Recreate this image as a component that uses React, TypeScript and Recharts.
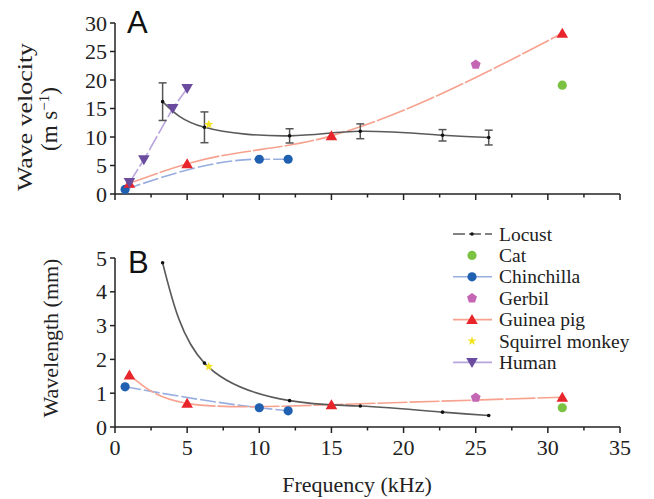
import { ComposedChart, Line, Scatter, XAxis, YAxis, ErrorBar } from "recharts";

// ---- data ----
const freqTicks = [0, 2.5, 5, 7.5, 10, 12.5, 15, 17.5, 20, 22.5, 25, 27.5, 30, 32.5, 35];
const velocityTicks = [0, 2.5, 5, 7.5, 10, 12.5, 15, 17.5, 20, 22.5, 25, 27.5, 30];
const wavelengthTicks = [0, 0.5, 1, 1.5, 2, 2.5, 3, 3.5, 4, 4.5, 5];

const locustFreq = [3.3, 6.2, 12.1, 17.0, 22.7, 25.9];
const locustVelocity = [16.2, 11.7, 10.2, 11.0, 10.3, 9.9];
const locustVelocityErr = [3.3, 2.7, 1.25, 1.3, 1.0, 1.3];
const locustWavelength = [4.86, 1.89, 0.78, 0.62, 0.44, 0.34];

const chinchillaFreq = [0.7, 10, 12];
const chinchillaVelocity = [0.8, 6.1, 6.1];
const chinchillaWavelength = [1.19, 0.57, 0.48];

const guineaPigFreq = [1, 5, 15, 31];
const guineaPigVelocity = [1.9, 5.3, 10.2, 28.2];
const guineaPigWavelength = [1.54, 0.7, 0.66, 0.88];

const gerbilFreq = [25];
const gerbilVelocity = [22.7];
const gerbilWavelength = [0.87];

const catFreq = [31];
const catVelocity = [19.1];
const catWavelength = [0.57];

const squirrelFreq = [6.5];
const squirrelVelocity = [12.2];
const squirrelWavelength = [1.79];

const humanFreq = [1, 2, 4, 5];
const humanVelocity = [2.0, 6.0, 15.0, 18.5];

const FONT = "Liberation Serif";
const SANS = "Liberation Sans";
const AXIS = "#222";

const COLORS = {
  locustLine: "#5a5a5a",
  locust: "#111",
  cat: "#7cc242",
  chinchilla: "#2060b0",
  chinchillaLine: "#98aee0",
  gerbil: "#c466b4",
  guineaPig: "#e8252b",
  guineaPigLine: "#f7a28e",
  squirrel: "#f4e423",
  human: "#6a4b9e",
  humanLine: "#b9a5dd",
};

const pts = (xs: number[], ys: number[], errs?: number[]) =>
  xs.map((x, i) => ({ x, y: ys[i], err: errs ? errs[i] : 0 }));

// ---- markers ----
function Marker({ kind, cx, cy, fill }: { kind: string; cx: number; cy: number; fill: string }) {
  if (cx == null || cy == null) return null;
  if (kind === "dot") return <circle cx={cx} cy={cy} r={1.8} fill={fill} />;
  if (kind === "circle") return <circle cx={cx} cy={cy} r={4.6} fill={fill} />;
  if (kind === "up")
    return <polygon points={`${cx},${cy - 5.5} ${cx + 5.8},${cy + 4.5} ${cx - 5.8},${cy + 4.5}`} fill={fill} />;
  if (kind === "down")
    return <polygon points={`${cx - 5.8},${cy - 4.5} ${cx + 5.8},${cy - 4.5} ${cx},${cy + 5.5}`} fill={fill} />;
  if (kind === "pentagon") {
    const p = [0, 1, 2, 3, 4]
      .map((i) => {
        const a = -Math.PI / 2 + (i * 2 * Math.PI) / 5;
        return `${cx + 5.2 * Math.cos(a)},${cy + 5.2 * Math.sin(a)}`;
      })
      .join(" ");
    return <polygon points={p} fill={fill} />;
  }
  if (kind === "star") {
    const p = Array.from({ length: 10 }, (_, i) => {
      const r = i % 2 === 0 ? 4.8 : 2;
      const a = -Math.PI / 2 + (i * Math.PI) / 5;
      return `${cx + r * Math.cos(a)},${cy + r * Math.sin(a)}`;
    }).join(" ");
    return <polygon points={p} fill={fill} />;
  }
  return null;
}

const shape = (kind: string, fill: string) => (props: any) => (
  <Marker kind={kind} cx={props.cx} cy={props.cy} fill={fill} />
);

// ---- ticks ----
function XTick(props: any) {
  const { x, y, payload, showLabel } = props;
  const v = payload.value;
  const major = Math.abs(v % 5) < 1e-6;
  const axisY = y - 11;
  return (
    <g>
      <line x1={x} x2={x} y1={axisY} y2={axisY + (major ? 6 : 3.5)} stroke={AXIS} strokeWidth={1.5} />
      {showLabel && major && (
        <text x={x} y={axisY + 28} textAnchor="middle" fontFamily={FONT} fontSize={22} fill="#222">
          {v}
        </text>
      )}
    </g>
  );
}

function YTick(props: any) {
  const { x, y, payload, step } = props;
  const v = payload.value;
  const major = Math.abs(v % step) < 1e-6;
  const axisX = x + 8;
  return (
    <g>
      {major ? (
        <line x1={axisX - 5} x2={axisX} y1={y} y2={y} stroke={AXIS} strokeWidth={1.5} />
      ) : (
        <line x1={axisX} x2={axisX + 3.5} y1={y} y2={y} stroke={AXIS} strokeWidth={1.5} />
      )}
      {major && (
        <text x={x} y={y + 7.5} textAnchor="end" fontFamily={FONT} fontSize={22} fill="#222">
          {v}
        </text>
      )}
    </g>
  );
}

function VelocityTitle() {
  return (
    <g>
      <text x={127} y={33} fontFamily={SANS} fontSize={31} fill="#111">
        A
      </text>
      <text
        transform="translate(32,117) rotate(-90)"
        textAnchor="middle"
        fontFamily={FONT}
        fontSize={22}
        fill="#222"
        textLength={148}
        lengthAdjust="spacingAndGlyphs"
      >
        Wave velocity
      </text>
      <text transform="translate(57,119) rotate(-90)" textAnchor="middle" fontFamily={FONT} fontSize={23} fill="#222">
        (m s<tspan dy={-8} fontSize={15}>−1</tspan>
        <tspan dy={8}>)</tspan>
      </text>
    </g>
  );
}

function WavelengthTitle() {
  return (
    <g>
      <text x={128} y={273} fontFamily={SANS} fontSize={31} fill="#111">
        B
      </text>
      <text transform="translate(58,338) rotate(-90)" textAnchor="middle" fontFamily={FONT} fontSize={22} fill="#222">
        Wavelength (mm)
      </text>
    </g>
  );
}

function FreqTitle() {
  return (
    <text x={357} y={492} textAnchor="middle" fontFamily={FONT} fontSize={22} fill="#222">
      Frequency (kHz)
    </text>
  );
}

// ---- legend ----
const legendRows = [
  { name: "Locust", kind: "dot", fill: COLORS.locust, line: COLORS.locustLine, dash: "12 4" },
  { name: "Cat", kind: "circle", fill: COLORS.cat },
  { name: "Chinchilla", kind: "circle", fill: COLORS.chinchilla, line: COLORS.chinchillaLine },
  { name: "Gerbil", kind: "pentagon", fill: COLORS.gerbil },
  { name: "Guinea pig", kind: "up", fill: COLORS.guineaPig, line: COLORS.guineaPigLine },
  { name: "Squirrel monkey", kind: "star", fill: COLORS.squirrel },
  { name: "Human", kind: "down", fill: COLORS.human, line: COLORS.humanLine },
];

function SpeciesLegend() {
  return (
    <svg width={209} height={175} style={{ position: "absolute", left: 445, top: 220 }}>
      {legendRows.map((r, i) => {
        const cy = 14 + i * 21.4;
        return (
          <g key={r.name}>
            {r.line && (
              <line x1={8} x2={47} y1={cy} y2={cy} stroke={r.line} strokeWidth={1.6} strokeDasharray={r.dash} />
            )}
            <Marker kind={r.kind} cx={27} cy={cy} fill={r.fill} />
            <text x={54} y={cy + 6.5} fontFamily={FONT} fontSize={19.5} fill="#222">
              {r.name}
            </text>
          </g>
        );
      })}
    </svg>
  );
}

export default function App() {
  const locustA = pts(locustFreq, locustVelocity, locustVelocityErr);
  const locustB = pts(locustFreq, locustWavelength);
  return (
    <div style={{ position: "absolute", left: 0, top: 0, width: 654, height: 499, background: "#fff" }}>
      <div style={{ position: "absolute", left: 0, top: 0 }}>
        <ComposedChart width={654} height={499} margin={{ top: 23, right: 34, bottom: 287, left: 0 }}>
          <XAxis
            type="number"
            dataKey="x"
            domain={[0, 35]}
            ticks={freqTicks}
            allowDataOverflow
            height={18}
            tickSize={6}
            tickMargin={5}
            tickLine={false}
            tick={<XTick showLabel={false} />}
            axisLine={{ stroke: AXIS, strokeWidth: 1.5 }}
          />
          <YAxis
            type="number"
            dataKey="y"
            domain={[0, 30]}
            ticks={velocityTicks}
            allowDataOverflow
            width={115}
            tickSize={5}
            tickMargin={3}
            tickLine={false}
            tick={<YTick step={5} />}
            axisLine={{ stroke: AXIS, strokeWidth: 1.5 }}
            label={{ content: () => <VelocityTitle /> }}
          />
          <Line data={pts(humanFreq, humanVelocity)} dataKey="y" type="linear" stroke={COLORS.humanLine} strokeWidth={1.6} strokeDasharray="16 3" dot={false} activeDot={false} isAnimationActive={false} />
          <Line data={pts(chinchillaFreq, chinchillaVelocity)} dataKey="y" type="monotone" stroke={COLORS.chinchillaLine} strokeWidth={1.6} strokeDasharray="16 3" dot={false} activeDot={false} isAnimationActive={false} />
          <Line data={pts(guineaPigFreq, guineaPigVelocity)} dataKey="y" type="monotone" stroke={COLORS.guineaPigLine} strokeWidth={1.6} strokeDasharray="30 2" dot={false} activeDot={false} isAnimationActive={false} />
          <Line data={locustA} dataKey="y" type="natural" stroke={COLORS.locustLine} strokeWidth={1.6} dot={false} activeDot={false} isAnimationActive={false} />
          <Scatter data={locustA} dataKey="y" shape={shape("dot", COLORS.locust)} isAnimationActive={false}>
            <ErrorBar dataKey="err" direction="y" width={4} stroke="#555" strokeWidth={1.5} />
          </Scatter>
          <Scatter data={pts(chinchillaFreq, chinchillaVelocity)} dataKey="y" shape={shape("circle", COLORS.chinchilla)} isAnimationActive={false} />
          <Scatter data={pts(guineaPigFreq, guineaPigVelocity)} dataKey="y" shape={shape("up", COLORS.guineaPig)} isAnimationActive={false} />
          <Scatter data={pts(humanFreq, humanVelocity)} dataKey="y" shape={shape("down", COLORS.human)} isAnimationActive={false} />
          <Scatter data={pts(gerbilFreq, gerbilVelocity)} dataKey="y" shape={shape("pentagon", COLORS.gerbil)} isAnimationActive={false} />
          <Scatter data={pts(catFreq, catVelocity)} dataKey="y" shape={shape("circle", COLORS.cat)} isAnimationActive={false} />
          <Scatter data={pts(squirrelFreq, squirrelVelocity)} dataKey="y" shape={shape("star", COLORS.squirrel)} isAnimationActive={false} />
        </ComposedChart>
      </div>
      <div style={{ position: "absolute", left: 0, top: 0 }}>
        <ComposedChart width={654} height={499} margin={{ top: 258, right: 34, bottom: 0, left: 0 }}>
          <XAxis
            type="number"
            dataKey="x"
            domain={[0, 35]}
            ticks={freqTicks}
            allowDataOverflow
            height={72}
            tickSize={6}
            tickMargin={5}
            tickLine={false}
            tick={<XTick showLabel />}
            axisLine={{ stroke: AXIS, strokeWidth: 1.5 }}
            label={{ content: () => <FreqTitle /> }}
          />
          <YAxis
            type="number"
            dataKey="y"
            domain={[0, 5]}
            ticks={wavelengthTicks}
            allowDataOverflow
            width={115}
            tickSize={5}
            tickMargin={3}
            tickLine={false}
            tick={<YTick step={1} />}
            axisLine={{ stroke: AXIS, strokeWidth: 1.5 }}
            label={{ content: () => <WavelengthTitle /> }}
          />
          <Line data={pts(chinchillaFreq, chinchillaWavelength)} dataKey="y" type="monotone" stroke={COLORS.chinchillaLine} strokeWidth={1.6} strokeDasharray="16 3" dot={false} activeDot={false} isAnimationActive={false} />
          <Line data={pts(guineaPigFreq, guineaPigWavelength)} dataKey="y" type="natural" stroke={COLORS.guineaPigLine} strokeWidth={1.6} strokeDasharray="30 2" dot={false} activeDot={false} isAnimationActive={false} />
          <Line data={locustB} dataKey="y" type="natural" stroke={COLORS.locustLine} strokeWidth={1.6} dot={false} activeDot={false} isAnimationActive={false} />
          <Scatter data={locustB} dataKey="y" shape={shape("dot", COLORS.locust)} isAnimationActive={false} />
          <Scatter data={pts(chinchillaFreq, chinchillaWavelength)} dataKey="y" shape={shape("circle", COLORS.chinchilla)} isAnimationActive={false} />
          <Scatter data={pts(guineaPigFreq, guineaPigWavelength)} dataKey="y" shape={shape("up", COLORS.guineaPig)} isAnimationActive={false} />
          <Scatter data={pts(gerbilFreq, gerbilWavelength)} dataKey="y" shape={shape("pentagon", COLORS.gerbil)} isAnimationActive={false} />
          <Scatter data={pts(catFreq, catWavelength)} dataKey="y" shape={shape("circle", COLORS.cat)} isAnimationActive={false} />
          <Scatter data={pts(squirrelFreq, squirrelWavelength)} dataKey="y" shape={shape("star", COLORS.squirrel)} isAnimationActive={false} />
        </ComposedChart>
      </div>
      <SpeciesLegend />
    </div>
  );
}
